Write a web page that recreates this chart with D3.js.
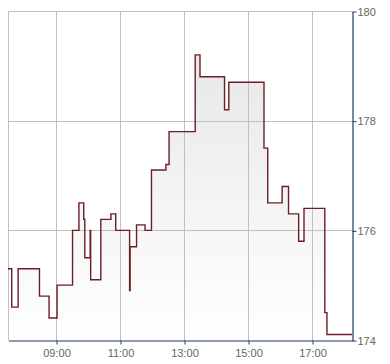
<!DOCTYPE html>
<html>
<head>
<meta charset="utf-8">
<script src="https://cdn.jsdelivr.net/npm/d3@7"></script>
<style>
  body { margin: 0; background: #fff; }
  svg { display: block; font-family: "Liberation Sans", Arial, sans-serif; }
</style>
</head>
<body>
<svg id="chart"></svg>
<script>
// intraday price, step data
var times = ["07:30","07:37","07:49","08:29","08:47","09:02","09:31","09:43","09:52","09:54",
             "10:04","10:05","10:24","10:43","10:52","11:18","11:19","11:31","11:47","11:59",
             "12:26","12:32","13:21","13:30","14:16","14:24","15:30","15:37","16:04","16:16",
             "16:35","16:45","17:24","17:28","18:15"];
var prices = [175.3,174.6,175.3,174.8,174.4,175.0,176.0,176.5,176.2,175.5,
              176.0,175.1,176.2,176.3,176.0,174.9,175.7,176.1,176.0,177.1,
              177.2,177.8,179.2,178.8,178.2,178.7,177.5,176.5,176.8,176.3,
              175.8,176.4,174.5,174.1,174.1];
var xTicks = ["09:00","11:00","13:00","15:00","17:00"];
var yTicks = [174,176,178,180];

var W = 390, H = 364;
var plotL = 8, plotT = 11, plotR = 352, plotB = 340;

var parse = d3.timeParse("%H:%M");
var data = times.map(function(t, i){ return {t: parse(t), v: prices[i]}; });

var svg = d3.select("#chart").attr("width", W).attr("height", H);

var x = d3.scaleTime()
    .domain([parse("07:30"), parse("18:15")])
    .range([plotL, plotR]);
var y = d3.scaleLinear()
    .domain([174, 180])
    .range([plotB, plotT]);

var grad = svg.append("defs").append("linearGradient")
    .attr("id", "fillGrad")
    .attr("gradientUnits", "userSpaceOnUse")
    .attr("x1", 0).attr("y1", plotT).attr("x2", 0).attr("y2", plotB);
grad.append("stop").attr("offset", 0).attr("stop-color", "#e4e4e4");
grad.append("stop").attr("offset", 1).attr("stop-color", "#ffffff");

// area + line
var area = d3.area()
    .x(function(d){ return x(d.t); })
    .y0(plotB)
    .y1(function(d){ return y(d.v); })
    .curve(d3.curveStepAfter);
var line = d3.line()
    .x(function(d){ return x(d.t); })
    .y(function(d){ return y(d.v); })
    .curve(d3.curveStepAfter);

svg.append("path")
    .attr("d", area(data))
    .attr("fill", "url(#fillGrad)");

// grid
var grid = svg.append("g").attr("transform", "translate(0.5,0.5)");
grid.selectAll(".vg").data(xTicks).enter().append("line")
    .attr("x1", function(d){ return Math.round(x(parse(d))); })
    .attr("x2", function(d){ return Math.round(x(parse(d))); })
    .attr("y1", plotT).attr("y2", plotB)
    .attr("stroke", "#c0c0c0");
grid.selectAll(".hg").data(yTicks.slice(1)).enter().append("line")
    .attr("x1", plotL).attr("x2", plotR)
    .attr("y1", function(d){ return Math.round(y(d)); })
    .attr("y2", function(d){ return Math.round(y(d)); })
    .attr("stroke", "#c0c0c0");
grid.append("line")
    .attr("x1", plotL).attr("x2", plotL).attr("y1", plotT).attr("y2", plotB)
    .attr("stroke", "#c0c0c0");

svg.append("path")
    .attr("d", line(data))
    .attr("fill", "none")
    .attr("stroke", "#6b1e24")
    .attr("stroke-width", 1.4);

// axes
var axisX = d3.axisBottom(x)
    .tickValues(xTicks.map(parse))
    .tickFormat(d3.timeFormat("%H:%M"))
    .tickSize(4)
    .tickSizeOuter(0);
var axisY = d3.axisRight(y)
    .tickValues(yTicks)
    .tickFormat(d3.format("d"))
    .tickSize(4)
    .tickSizeOuter(0)
    .tickPadding(1);

var gx = svg.append("g")
    .attr("transform", "translate(0.5," + (plotB + 0.5) + ")")
    .call(axisX);
var gy = svg.append("g")
    .attr("transform", "translate(" + (plotR + 0.5) + ",0.5)")
    .call(axisY);

[gx, gy].forEach(function(g){
    g.select(".domain").attr("stroke", "#1c3b6a").attr("stroke-width", 1.2);
    g.selectAll(".tick line").attr("stroke", "#1c3b6a");
    g.selectAll(".tick text")
        .attr("fill", "#666")
        .attr("font-size", 11)
        .attr("font-family", "Liberation Sans, Arial, sans-serif");
});
gx.selectAll(".tick text").attr("dy", "0.9em");
</script>
</body>
</html>
